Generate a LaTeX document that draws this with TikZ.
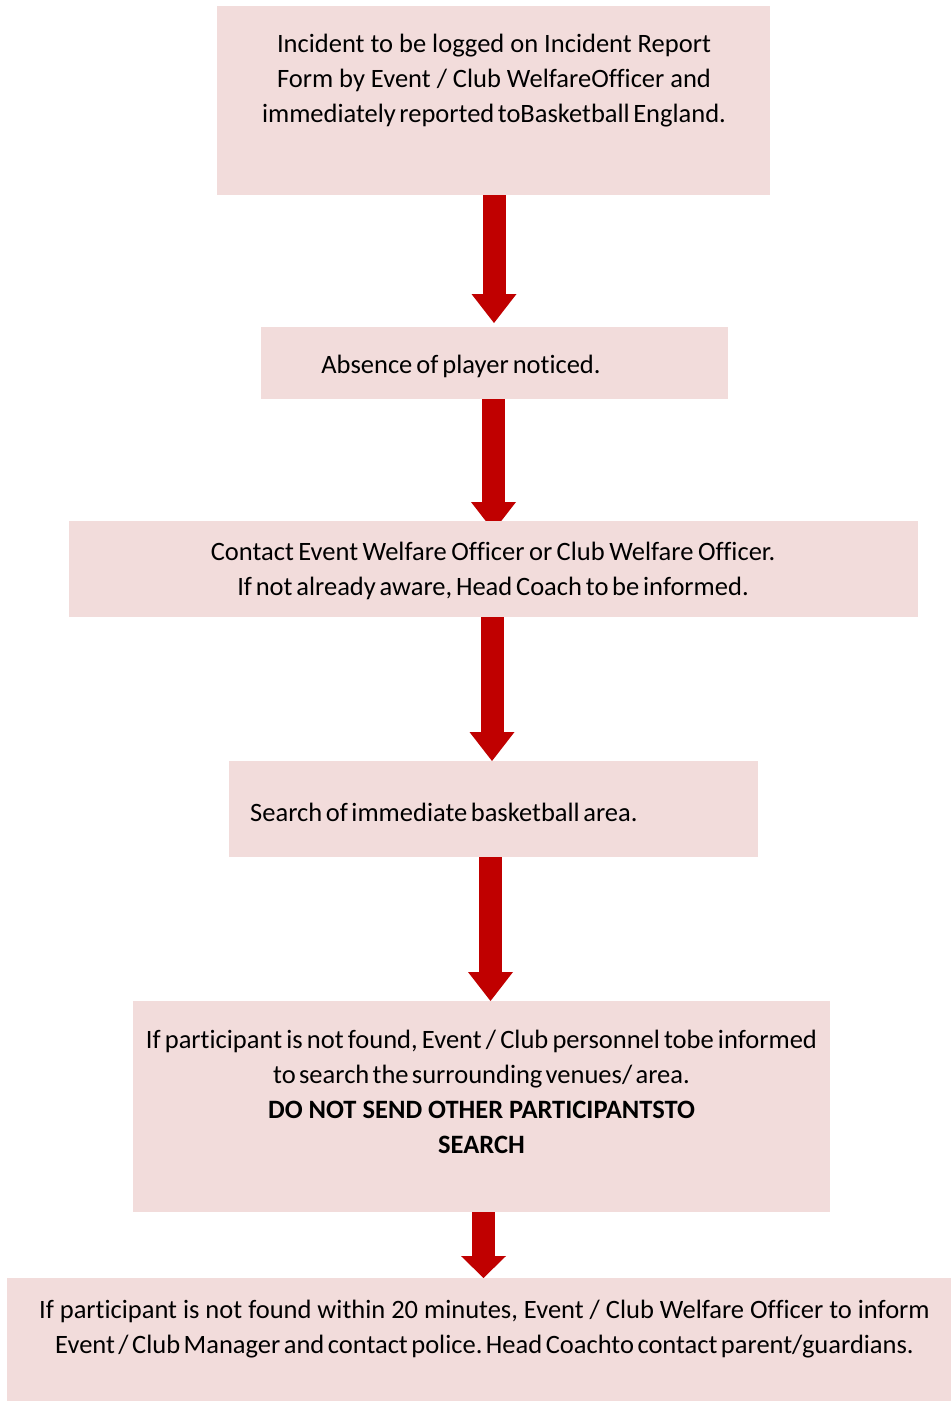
\documentclass[tikz,border=0pt]{standalone}
\usepackage{fontspec}
\setmainfont[Ligatures=NoCommon]{Carlito}
\usetikzlibrary{arrows.meta,backgrounds}
\definecolor{boxpink}{HTML}{F2DCDB}
\definecolor{arrowred}{HTML}{C00000}
\newcommand{\tightws}[2]{{\spaceskip=#1\relax #2}}
\begin{document}
\frenchspacing
\begin{tikzpicture}[x=1pt,y=-1pt,
  box/.style={fill=boxpink, draw=none, inner sep=0pt, outer sep=0pt, anchor=north west},
  txt/.style={font=\fontsize{26.5}{35}\selectfont\frenchspacing, align=center, inner sep=0pt, text=black},
  arr/.style={draw=arrowred, line width=23pt, -{Triangle[width=45pt,length=29pt,line width=0pt,fill=arrowred]}},
  arrshort/.style={draw=arrowred, line width=23pt, -{Triangle[width=45pt,length=22pt,line width=0pt,fill=arrowred]}}]
\useasboundingbox (0,0) rectangle (951,1401);
% boxes
\node[box, minimum width=553pt, minimum height=189pt] (b1) at (217,6) {};
\node[box, minimum width=467pt, minimum height=72pt] (b2) at (261,327) {};
\node[box, minimum width=849pt, minimum height=96pt] (b3) at (69,521) {};
\node[box, minimum width=529pt, minimum height=96pt] (b4) at (229,761) {};
\node[box, minimum width=697pt, minimum height=211pt] (b5) at (133,1001) {};
\node[box, minimum width=944pt, minimum height=123pt] (b6) at (7,1278) {};
% texts
\node[txt] (t1) at (494,81) {Incident to be logged on Incident Report\\Form by Event / Club WelfareOfficer and\\\tightws{3.5pt}{immediately reported toBasketball England.}};
\node[txt] (t2) at (461,366) {\tightws{4pt}{Absence of player noticed.}};
\node[txt] (t3) at (493,571) {\tightws{4.5pt}{Contact Event Welfare Officer or Club Welfare Officer.}\\\tightws{3.8pt}{If not already aware, Head Coach to be informed.}};
\node[txt, anchor=west] (t4) at (250,812) {\tightws{3.6pt}{Search of immediate basketball area.}};
\node[txt] (t5) at (481.5,1092) {\tightws{4.2pt}{If participant is not found, Event / Club personnel tobe informed}\\\tightws{3.3pt}{to search the surrounding venues/ area.}\\\textbf{DO NOT SEND OTHER PARTICIPANTSTO}\\\textbf{SEARCH}};
\node[txt] (t6) at (484.5,1329) {If participant is not found within 20 minutes, Event / Club Welfare Officer to inform\\\tightws{3.5pt}{Event / Club Manager and contact police. Head Coachto contact parent/guardians.}};
% arrows
\begin{scope}[on background layer]
\fill[white] (0,0) rectangle (951,1401);
\draw[arr] ([xshift=0.5pt]b1.south) -- ([xshift=0.5pt,yshift=4pt]b1.south |- b2.north);
\draw[arr] ([xshift=-1pt]b2.south) -- ([xshift=-1pt,yshift=-10pt]b2.south |- b3.north);
\draw[arr] ([xshift=-1.5pt]b3.south) -- ([xshift=-1.5pt]b3.south |- b4.north);
\draw[arr] ([xshift=-3pt]b4.south) -- ([xshift=-3pt]b4.south |- b5.north);
\draw[arrshort] ([xshift=2pt]b5.south) -- ([xshift=2pt]b5.south |- b6.north);
\end{scope}
\end{tikzpicture}
\end{document}
